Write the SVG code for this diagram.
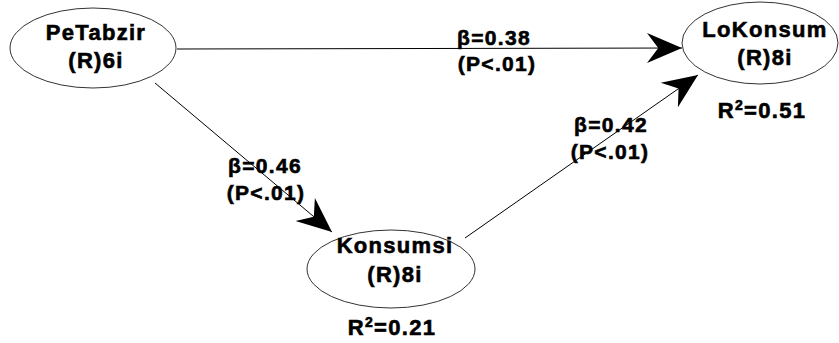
<svg xmlns="http://www.w3.org/2000/svg" width="839" height="343" viewBox="0 0 839 343">
<style>
.node{fill:#fff;stroke:#333;stroke-width:1}
.t{font-family:"Liberation Sans",Arial,sans-serif;font-weight:bold;font-size:22px;letter-spacing:1.3px;fill:#000;stroke:#000;stroke-width:0.6px;text-anchor:middle}
.l{font-family:"Liberation Sans",Arial,sans-serif;font-weight:bold;font-size:21px;letter-spacing:1.3px;fill:#000;stroke:#000;stroke-width:0.6px;text-anchor:middle}
.e{stroke:#000;stroke-width:1;fill:none;marker-end:url(#ah)}
</style>
<defs>
<marker id="ah" markerUnits="userSpaceOnUse" orient="auto" refX="0" refY="0" markerWidth="40" markerHeight="40" viewBox="-30 -15 32 30" overflow="visible">
<path d="M0,0 L-28,-12 L-19,0 L-28,12 Z" fill="#000"/>
</marker>
</defs>
<rect width="839" height="343" fill="#fff"/>
<g id="connectors">
<line class="e" x1="177" y1="49" x2="682" y2="48"/>
<line class="e" x1="155" y1="83" x2="332" y2="232"/>
<line class="e" x1="465" y1="238" x2="698" y2="75"/>
</g>
<g id="PeTabzir">
<ellipse class="node" cx="93" cy="48" rx="83" ry="40"/>
<text class="t" x="96" y="40">PeTabzir</text>
<text class="t" x="96" y="68">(R)6i</text>
</g>
<g id="LoKonsum">
<ellipse class="node" cx="760" cy="43" rx="78" ry="41"/>
<text class="t" x="765" y="37">LoKonsum</text>
<text class="t" x="765" y="65">(R)8i</text>
<text class="t" x="762" y="118">R<tspan font-size="14" dy="-8">2</tspan><tspan dy="8">=0.51</tspan></text>
</g>
<g id="Konsumsi">
<ellipse class="node" cx="391" cy="269" rx="84" ry="39"/>
<text class="t" x="395" y="253">Konsumsi</text>
<text class="t" x="395" y="282">(R)8i</text>
<text class="t" x="392" y="335">R<tspan font-size="14" dy="-8">2</tspan><tspan dy="8">=0.21</tspan></text>
</g>
<g id="labels">
<text class="l" x="494" y="45">β=0.38</text>
<text class="l" x="497" y="71">(P&lt;.01)</text>
<text class="l" x="265" y="173">β=0.46</text>
<text class="l" x="266" y="200">(P&lt;.01)</text>
<text class="l" x="611" y="132">β=0.42</text>
<text class="l" x="610" y="159">(P&lt;.01)</text>
</g>
</svg>
